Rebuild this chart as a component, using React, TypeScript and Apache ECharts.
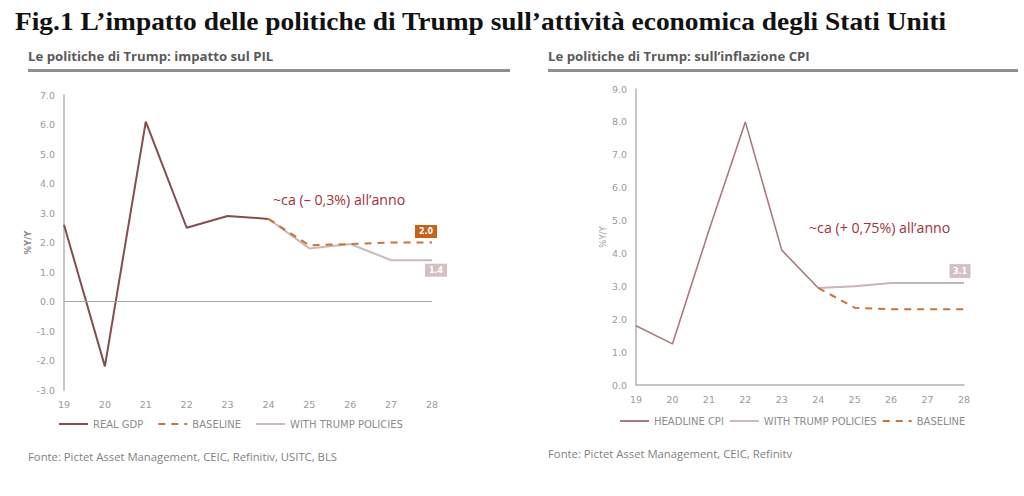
import React, { useEffect, useRef } from "react";
import * as echarts from "echarts";

const years = ["19", "20", "21", "22", "23", "24", "25", "26", "27", "28"];

// Left chart: GDP % Y/Y
const gdpActual = [2.6, -2.2, 6.1, 2.5, 2.9, 2.8]; // 2019-2024
const gdpBaseline = [2.8, 1.9, 1.95, 2.0, 2.0]; // 2024-2028
const gdpTrump = [2.8, 1.8, 1.95, 1.4, 1.4]; // 2024-2028
const gdpTicks = { min: -3, max: 7, interval: 1 };

// Right chart: CPI % Y/Y
const cpiActual = [1.8, 1.25, 4.7, 8.0, 4.1, 2.95]; // 2019-2024
const cpiTrump = [2.95, 3.0, 3.1, 3.1, 3.1]; // 2024-2028
const cpiBaseline = [2.95, 2.35, 2.3, 2.3, 2.3]; // 2024-2028
const cpiTicks = { min: 0, max: 9, interval: 1 };

const forecastStart = 5; // index of "24"

const pad = (arr: number[], start: number) =>
  years.map((_, i) => (i >= start && i - start < arr.length ? arr[i - start] : null));

const C = {
  gdp: "#824e4e",
  cpi: "#a87c7c",
  baseline: "#c8733a",
  trump: "#cdb8ba",
  trumpR: "#c9b4b6",
  boxOrange: "#c5621c",
  boxPink: "#d3c0c3",
  axis: "#b3b3b3",
  tickText: "#9a9a9a",
  note: "#a3303a",
};

const tickLabel = {
  color: C.tickText,
  fontSize: 9.5,
  fontFamily: "DejaVu Sans",
  margin: 9,
};

const legendText = { color: "#8c8c8c", fontSize: 10, fontFamily: "DejaVu Sans" };

export default function App() {
  const ref = useRef<HTMLDivElement>(null);

  useEffect(() => {
    if (!ref.current) return;
    const chart = echarts.init(ref.current, undefined, { renderer: "svg" });

    const lastIdx = years.length - 1;
    const box = (value: number, color: string, offset: number[], size: number[]) => ({
      symbol: "rect",
      symbolSize: size,
      symbolOffset: offset,
      silent: true,
      itemStyle: { color },
      label: {
        show: true,
        position: "inside",
        color: "#fff",
        fontSize: 8,
        fontWeight: "bold",
        fontFamily: "DejaVu Sans",
        formatter: () => value.toFixed(1),
      },
      data: [{ coord: [lastIdx, value] }],
    });

    const option: any = {
      animation: false,
      backgroundColor: "#fff",
      grid: [
        { left: 64, top: 95, width: 368, height: 295 },
        { left: 636, top: 89, width: 328, height: 296 },
      ],
      xAxis: [
        {
          gridIndex: 0,
          type: "category",
          data: years,
          boundaryGap: false,
          axisLine: { show: false, onZero: false },
          axisTick: { show: false },
          axisLabel: tickLabel,
          splitLine: { show: false },
        },
        {
          gridIndex: 1,
          type: "category",
          data: years,
          boundaryGap: false,
          axisLine: { show: true, lineStyle: { color: C.axis, width: 1.5 } },
          axisTick: { show: false },
          axisLabel: tickLabel,
          splitLine: { show: false },
        },
      ],
      yAxis: [
        {
          gridIndex: 0,
          type: "value",
          ...gdpTicks,
          name: "%Y/Y",
          nameLocation: "middle",
          nameGap: 29,
          nameTextStyle: { color: "#8a8a8a", fontSize: 8.5, fontFamily: "DejaVu Sans", fontWeight: "bold" },
          axisLine: { show: true, lineStyle: { color: C.axis, width: 1.5 } },
          axisTick: { show: false },
          splitLine: { show: false },
          axisLabel: { ...tickLabel, formatter: (v: number) => v.toFixed(1) },
        },
        {
          gridIndex: 1,
          type: "value",
          ...cpiTicks,
          name: "%Y/Y",
          nameLocation: "middle",
          nameGap: 25,
          nameTextStyle: { color: "#9a9a9a", fontSize: 8.5, fontFamily: "DejaVu Sans" },
          axisLine: { show: true, lineStyle: { color: C.axis, width: 1.5 } },
          axisTick: { show: false },
          splitLine: { show: false },
          axisLabel: { ...tickLabel, formatter: (v: number) => v.toFixed(1) },
        },
      ],
      legend: [
        {
          data: ["REAL GDP", "BASELINE", "WITH TRUMP POLICIES"],
          left: 53,
          top: 414,
          itemWidth: 29,
          itemHeight: 2,
          itemGap: 14,
          itemStyle: { opacity: 0 },
          textStyle: legendText,
        },
        {
          data: ["HEADLINE CPI", "WITH TRUMP POLICIES", "BASELINE"],
          left: 614,
          top: 411,
          itemWidth: 29,
          itemHeight: 2,
          itemGap: 5,
          itemStyle: { opacity: 0 },
          textStyle: legendText,
        },
      ],
      series: [
        {
          name: "REAL GDP",
          type: "line",
          xAxisIndex: 0,
          yAxisIndex: 0,
          data: pad(gdpActual, 0),
          symbol: "none",
          lineStyle: { color: C.gdp, width: 2 },
          itemStyle: { color: C.gdp },
          z: 3,
          markLine: {
            silent: true,
            symbol: "none",
            label: { show: false },
            lineStyle: { color: "#a6a6a6", width: 1.2, type: "solid" },
            data: [{ yAxis: 0 }],
          },
        },
        {
          name: "WITH TRUMP POLICIES",
          type: "line",
          xAxisIndex: 0,
          yAxisIndex: 0,
          data: pad(gdpTrump, forecastStart),
          symbol: "none",
          lineStyle: { color: C.trump, width: 2 },
          itemStyle: { color: C.trump },
          z: 2,
          markPoint: box(gdpTrump[gdpTrump.length - 1], C.boxPink, [4, 10], [22, 13]),
        },
        {
          name: "BASELINE",
          type: "line",
          xAxisIndex: 0,
          yAxisIndex: 0,
          data: pad(gdpBaseline, forecastStart),
          symbol: "none",
          lineStyle: { color: C.baseline, width: 2, type: [7, 6] },
          itemStyle: { color: C.baseline },
          z: 4,
          markPoint: box(gdpBaseline[gdpBaseline.length - 1], C.boxOrange, [-6, -11], [22, 13]),
        },
        {
          name: "HEADLINE CPI",
          type: "line",
          xAxisIndex: 1,
          yAxisIndex: 1,
          data: pad(cpiActual, 0),
          symbol: "none",
          lineStyle: { color: C.cpi, width: 1.6 },
          itemStyle: { color: C.cpi },
          z: 3,
        },
        {
          name: "WITH TRUMP POLICIES",
          type: "line",
          xAxisIndex: 1,
          yAxisIndex: 1,
          data: pad(cpiTrump, forecastStart),
          symbol: "none",
          lineStyle: { color: C.trumpR, width: 2 },
          itemStyle: { color: C.trumpR },
          z: 2,
          markPoint: box(cpiTrump[cpiTrump.length - 1], C.boxPink, [-4, -12], [21, 14]),
        },
        {
          name: "BASELINE",
          type: "line",
          xAxisIndex: 1,
          yAxisIndex: 1,
          data: pad(cpiBaseline, forecastStart),
          symbol: "none",
          lineStyle: { color: C.baseline, width: 2, type: [7, 6] },
          itemStyle: { color: C.baseline },
          z: 4,
        },
      ],
      graphic: [
        {
          type: "text",
          x: 15,
          y: 21,
          scaleX: 1.055,
          style: {
            text: "Fig.1 L’impatto delle politiche di Trump sull’attività economica degli Stati Uniti",
            font: "bold 26px 'Liberation Serif'",
            fill: "#111",
            textVerticalAlign: "middle",
          },
        },
        {
          type: "text",
          x: 28,
          y: 56,
          style: {
            text: "Le politiche di Trump: impatto sul PIL",
            font: "bold 13.2px 'Open Sans'",
            fill: "#5a5a5a",
            textVerticalAlign: "middle",
          },
        },
        {
          type: "text",
          x: 548,
          y: 56,
          style: {
            text: "Le politiche di Trump: sull’inflazione CPI",
            font: "bold 13.2px 'Open Sans'",
            fill: "#5a5a5a",
            textVerticalAlign: "middle",
          },
        },
        { type: "rect", shape: { x: 28, y: 69, width: 482, height: 3 }, style: { fill: "#8f8f8f" } },
        { type: "rect", shape: { x: 548, y: 69, width: 470, height: 3 }, style: { fill: "#8f8f8f" } },
        {
          type: "text",
          x: 273,
          y: 199,
          style: {
            text: "~ca (– 0,3%) all’anno",
            font: "14.2px 'Open Sans'",
            fill: C.note,
            textVerticalAlign: "middle",
          },
        },
        {
          type: "text",
          x: 809,
          y: 227,
          style: {
            text: "~ca (+ 0,75%) all’anno",
            font: "14.2px 'Open Sans'",
            fill: C.note,
            textVerticalAlign: "middle",
          },
        },
        {
          type: "text",
          x: 28,
          y: 456,
          style: {
            text: "Fonte: Pictet Asset Management, CEIC, Refinitiv, USITC, BLS",
            font: "11.3px 'Open Sans'",
            fill: "#7f7f7f",
            textVerticalAlign: "middle",
          },
        },
        {
          type: "text",
          x: 548,
          y: 453,
          style: {
            text: "Fonte: Pictet Asset Management, CEIC, Refinitv",
            font: "11.3px 'Open Sans'",
            fill: "#7f7f7f",
            textVerticalAlign: "middle",
          },
        },
      ],
    };

    chart.setOption(option);
    return () => chart.dispose();
  }, []);

  return (
    <div
      ref={ref}
      style={{ position: "fixed", left: 0, top: 0, width: 1024, height: 496, background: "#fff" }}
    />
  );
}
